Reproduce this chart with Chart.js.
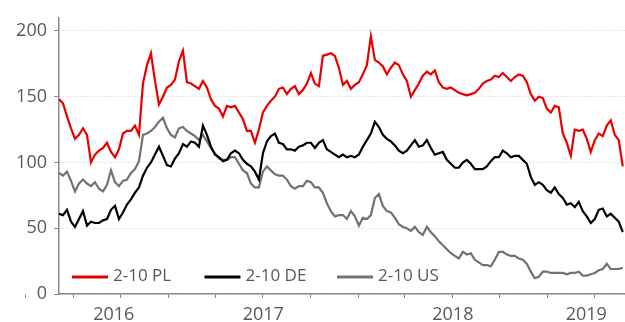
<!DOCTYPE html>
<html>
<head>
<meta charset="utf-8">
<script src="https://cdn.jsdelivr.net/npm/chart.js@4"></script>
<style>
  html, body { margin: 0; padding: 0; background: #fff; }
  #wrap { width: 625px; height: 322px; }
</style>
</head>
<body>
<div id="wrap"><canvas id="spreadChart"></canvas></div>
<script>
// 2-10 curve spreads (bp), sampled every 7.7 days from 4 Jun 2016
const startDay = 155;   // days since 1 Jan 2016
const stepDays = 7.7;

const pl = [
  148, 145, 135, 126, 118, 121, 126, 121, 100, 106,
  109, 111, 115, 108, 104, 110, 122, 124, 124, 128,
  121, 160, 174, 183, 162, 144, 150, 157, 159, 163,
  177, 185, 161, 160, 158, 156, 162, 157, 148, 143,
  141, 135, 143, 142, 143, 138, 133, 124, 124, 115,
  125, 138, 143, 147, 150, 156, 157, 152, 156, 158,
  152, 155, 160, 168, 160, 158, 181, 182, 183, 181,
  172, 159, 162, 156, 159, 161, 167, 174, 196, 178,
  176, 173, 167, 172, 176, 174, 167, 162, 150, 155,
  160, 166, 169, 167, 170, 161, 157, 156, 157, 155,
  153, 152, 151, 152, 153, 156, 160, 162, 163, 166,
  165, 168, 165, 162, 165, 167, 166, 161, 152, 147,
  150, 149, 141, 138, 143, 142, 122, 115, 105, 125,
  124, 125, 118, 108, 117, 122, 120, 128, 132, 121,
  117, 97
];

const de = [
  61, 60, 64, 55, 51, 57, 63, 52, 55, 54,
  54, 56, 57, 64, 67, 57, 62, 68, 72, 77,
  81, 90, 96, 100, 106, 112, 105, 98, 97, 103,
  107, 114, 112, 116, 115, 112, 128, 121, 112, 106,
  104, 101, 102, 107, 109, 107, 102, 99, 97, 93,
  87, 107, 116, 120, 122, 115, 114, 110, 110, 109,
  112, 113, 115, 115, 111, 115, 117, 110, 108, 106,
  104, 106, 104, 105, 104, 106, 112, 117, 122, 131,
  127, 121, 118, 116, 113, 109, 107, 109, 113, 117,
  112, 113, 117, 111, 106, 107, 108, 102, 99, 96,
  96, 100, 102, 99, 95, 95, 95, 97, 101, 104,
  104, 109, 107, 104, 105, 105, 102, 99, 89, 83,
  85, 83, 79, 77, 81, 76, 73, 68, 69, 66,
  70, 63, 59, 54, 57, 64, 65, 59, 61, 58,
  55, 47
];

const us = [
  92, 90, 93, 86, 78, 84, 87, 84, 82, 85,
  80, 78, 83, 94, 85, 82, 86, 87, 92, 95,
  101, 121, 122, 124, 127, 131, 134, 126, 121, 119,
  126, 127, 124, 122, 120, 117, 121, 116, 111, 107,
  103, 102, 102, 104, 104, 99, 94, 92, 84, 81,
  81, 93, 97, 94, 91, 90, 90, 87, 82, 80,
  82, 82, 86, 85, 81, 81, 77, 69, 63, 59,
  60, 60, 57, 63, 59, 52, 58, 57, 60, 73,
  76, 67, 63, 62, 58, 53, 51, 50, 48, 51,
  47, 45, 51, 47, 44, 40, 37, 34, 31, 29,
  27, 32, 30, 31, 26, 24, 22, 22, 21, 26,
  32, 32, 30, 29, 29, 27, 26, 23, 17, 12,
  13, 17, 17, 16, 16, 16, 16, 15, 16, 16,
  17, 14, 14, 15, 16, 18, 19, 23, 19, 19,
  19, 20
];

const seriesNames = ['2-10 PL', '2-10 DE', '2-10 US'];
const seriesColors = ['#e80000', '#000000', '#6c7474'];

// x axis in days since 1 Jan 2016
const xMin = 155;
const xMax = 1245;
const quarterTicks = [91, 182, 274, 366, 456, 547, 639, 731, 821, 912, 1004, 1096, 1186];
const yearStarts = [0, 366, 731, 1096, 1461];
const yearLabels = ['2016', '2017', '2018', '2019'];
const yTicks = [0, 50, 100, 150, 200];

const toPoints = arr => arr.map((v, i) => ({ x: startDay + i * stepDays, y: v }));

// label each year in the middle of its visible stretch
const yearCenters = yearLabels.map((_, i) =>
  (Math.max(yearStarts[i], xMin) + Math.min(yearStarts[i + 1], xMax)) / 2);

const axisGrey = '#8a8a8a';
const textGrey = '#595959';

Chart.defaults.font.family = "'Open Sans', sans-serif";
Chart.defaults.font.size = 18;
Chart.defaults.color = textGrey;

const insideLegend = {
  id: 'insideLegend',
  afterDatasetsDraw(chart) {
    const { ctx, chartArea } = chart;
    const y = chartArea.bottom - 17;
    ctx.save();
    ctx.font = "17px 'Open Sans'";
    ctx.textBaseline = 'middle';
    chart.data.datasets.forEach((ds, k) => {
      const x0 = chartArea.left + 13 + k * 132.5;
      ctx.strokeStyle = ds.borderColor;
      ctx.lineWidth = 3;
      ctx.beginPath();
      ctx.moveTo(x0, y);
      ctx.lineTo(x0 + 36, y);
      ctx.stroke();
      ctx.fillStyle = textGrey;
      ctx.fillText(ds.label, x0 + 41, y - 1);
    });
    ctx.restore();
  }
};

const datasets = [pl, de, us].map((arr, k) => ({
  label: seriesNames[k],
  data: toPoints(arr),
  borderColor: seriesColors[k],
  backgroundColor: seriesColors[k],
  borderWidth: 2.2,
  pointRadius: 0,
  tension: 0,
  xAxisID: 'x',
  yAxisID: 'y'
}));

new Chart(document.getElementById('spreadChart'), {
  type: 'line',
  data: { datasets: datasets },
  plugins: [insideLegend],
  options: {
    responsive: true,
    maintainAspectRatio: false,
    animation: false,
    layout: { padding: { top: 14, right: 0, bottom: 0, left: 0 } },
    plugins: {
      legend: { display: false },
      tooltip: { enabled: false }
    },
    scales: {
      x: {
        type: 'linear',
        position: 'bottom',
        min: xMin,
        max: xMax,
        weight: 0,
        afterBuildTicks: scale => { scale.ticks = quarterTicks.map(v => ({ value: v })); },
        afterFit: scale => { scale.height = 4; },
        ticks: { display: false },
        grid: {
          drawOnChartArea: false,
          drawTicks: true,
          tickLength: 4,
          tickColor: axisGrey,
          tickWidth: 1
        },
        border: { display: true, color: axisGrey, width: 1.5 }
      },
      xYear: {
        type: 'linear',
        position: 'bottom',
        min: xMin,
        max: xMax,
        weight: 1,
        afterBuildTicks: scale => { scale.ticks = yearCenters.map(v => ({ value: v })); },
        afterFit: scale => { scale.height = 24; },
        ticks: {
          autoSkip: false,
          maxRotation: 0,
          padding: -2,
          callback: (value, index) => yearLabels[index]
        },
        grid: { display: false },
        border: { display: false }
      },
      y: {
        type: 'linear',
        min: 0,
        max: 210,
        afterBuildTicks: scale => { scale.ticks = yTicks.map(v => ({ value: v })); },
        afterFit: scale => { scale.width = 59; },
        ticks: { padding: 7 },
        grid: {
          color: '#cfcfcf',
          lineWidth: 1,
          tickLength: 5,
          tickColor: axisGrey,
          tickBorderDash: []
        },
        border: {
          display: true,
          color: axisGrey,
          width: 1.5,
          // dotted grid lines, solid axis line
          dash: ctx => (ctx.type === 'tick' ? [1, 2] : [])
        }
      }
    }
  }
});
</script>
</body>
</html>
